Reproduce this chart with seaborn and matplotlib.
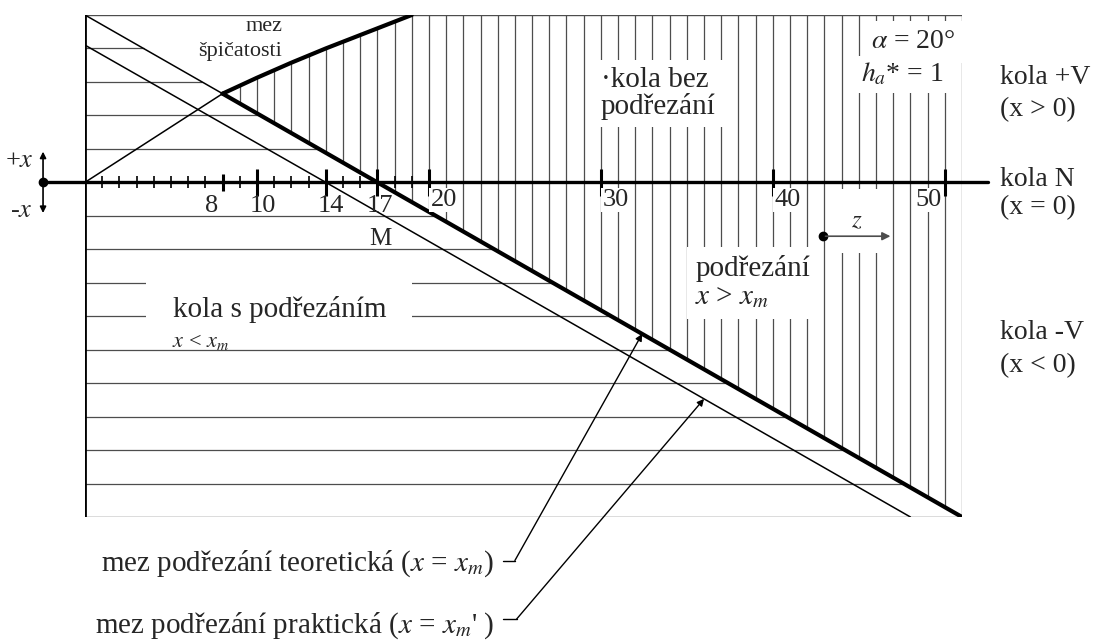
import numpy as np
import matplotlib
matplotlib.use('Agg')
import matplotlib.pyplot as plt
import seaborn as sns

sns.set_theme(style="white")
plt.rcParams['font.family'] = ['Liberation Serif', 'DejaVu Serif']
plt.rcParams['mathtext.fontset'] = 'stix'

# mez podřezání teoretická (x = x_m)
z_teor = [0, 8, 17, 51]
x_teor = [1.0, 0.53, 0.0, -2.0]
# mez podřezání praktická (x = x_m')
z_prakt = [0, 14, 48]
x_prakt = [0.82, 0.0, -2.0]
# mez špičatosti
z_spic = [0, 8, 10, 12, 14, 17, 19]
x_spic = [0.0, 0.53, 0.625, 0.715, 0.80, 0.92, 1.0]

# popisky osy z
z_popisky = ['8', '10', '14', '17', '20', '30', '40', '50']
z_hlavni = [10, 14, 17, 20, 30, 40, 50]
z_vedlejsi = list(range(1, 20))

# šrafování (úrovně po 0.2 v x, svislice po jednom zubu)
x_rastr = [0.8, 0.6, 0.4, 0.2, -0.2, -0.4, -0.6, -0.8, -1.0, -1.2, -1.4, -1.6, -1.8]
z_rastr = list(range(9, 52))

fig = plt.figure(figsize=(10.96, 6.43), dpi=100)
ax = fig.add_axes([85 / 1096, 126 / 643, 877 / 1096, 502 / 643])
ax.set_xlim(0, 51)
ax.set_ylim(-2, 1)
ax.set_axis_off()

seda = '0.3'

# svislé šrafy: kola bez podřezání
lo = np.interp(z_rastr, z_teor, x_teor)
hi = np.minimum(np.interp(z_rastr, z_spic, x_spic, right=1.0), 1.0)
ax.vlines(z_rastr, lo, hi, colors=seda, lw=0.9, zorder=1)

# vodorovné šrafy: kola s podřezáním
z_konec = np.interp(x_rastr, x_teor[::-1], z_teor[::-1])
ax.hlines(x_rastr, 0, z_konec, colors=seda, lw=0.9, zorder=1)

# rámeček
ax.hlines([1.0, -2.0], 0, 51, colors=seda, lw=1.0, zorder=1)
ax.vlines(0, -2, 1, colors='black', lw=2.0, zorder=3)
ax.hlines(x_rastr, -0.35, 0, colors='black', lw=1.2, zorder=3)

# osa z (x = 0)
ax.plot([-2.44, 52.5], [0, 0], color='black', lw=2.4, clip_on=False, zorder=3)
ax.vlines(z_vedlejsi, -0.035, 0.035, colors='black', lw=1.2, zorder=3)
ax.vlines(z_hlavni, -0.08, 0.08, colors='black', lw=2.2, zorder=3)
ax.vlines(8, -0.05, 0.05, colors='black', lw=2.2, zorder=3)

# hranice
sns.lineplot(x=z_teor[:2], y=x_teor[:2], ax=ax, color='black', lw=1.1, sort=False, estimator=None, zorder=4)
sns.lineplot(x=z_teor[1:], y=x_teor[1:], ax=ax, color='black', lw=3.0, sort=False, estimator=None, zorder=4)
sns.lineplot(x=z_prakt, y=x_prakt, ax=ax, color='black', lw=1.1, sort=False, estimator=None, zorder=4)
sns.lineplot(x=z_spic[:2], y=x_spic[:2], ax=ax, color='black', lw=1.1, sort=False, estimator=None, zorder=4)
sns.lineplot(x=z_spic[1:], y=x_spic[1:], ax=ax, color='black', lw=3.0, sort=False, estimator=None, zorder=4)

bila = dict(facecolor='white', edgecolor='none', pad=1)

# popisky osy z
pozice = {'8': (7.75, 'right'), '10': (10.35, 'center'), '14': (14.3, 'center'),
          '17': (17.15, 'center'), '20': (20.1, 'left'), '30': (30.1, 'left'),
          '40': (40.1, 'left'), '50': (49.8, 'right')}
for lab in z_popisky:
    zz, ha = pozice[lab]
    if int(lab) < 20:
        ax.text(zz, -0.14, lab, ha=ha, va='center', fontsize=19, zorder=5)
    else:
        ax.text(zz, -0.105, lab, ha=ha, va='center', fontsize=19, bbox=bila, zorder=5)
ax.text(17.15, -0.34, 'M', ha='center', va='center', fontsize=18, zorder=5)

# +x / -x
ax.plot(-2.44, 0, 'o', color='black', ms=6, clip_on=False, zorder=5)
ax.annotate('', xy=(-2.44, 0.2), xytext=(-2.44, 0), annotation_clip=False,
            arrowprops=dict(arrowstyle='-|>', color='black', lw=1.2, mutation_scale=9))
ax.annotate('', xy=(-2.44, -0.2), xytext=(-2.44, 0), annotation_clip=False,
            arrowprops=dict(arrowstyle='-|>', color='black', lw=1.2, mutation_scale=9))
ax.text(-3.8, 0.13, r'+$x$', ha='center', va='center', fontsize=19)
ax.text(-3.7, -0.17, r'-$x$', ha='center', va='center', fontsize=19)

# texty v grafu
ax.text(10.4, 0.93, 'mez', ha='center', va='center', fontsize=16, zorder=5)
ax.text(9.0, 0.78, 'špičatosti', ha='center', va='center', fontsize=16, zorder=5)
ax.text(30.0, 0.53, '·kola bez\npodřezání', ha='left', va='center', fontsize=21,
        linespacing=1.0, bbox=dict(facecolor='white', edgecolor='none', pad=5), zorder=5)
ax.text(50.6, 0.84, r'$\alpha$ = 20°', ha='right', va='center', fontsize=20,
        bbox=dict(facecolor='white', edgecolor='none', pad=6), zorder=5)
ax.text(49.9, 0.645, r'$h_a$* = 1', ha='right', va='center', fontsize=20,
        bbox=dict(facecolor='white', edgecolor='none', pad=4), zorder=5)
ax.text(5.1, -0.76, 'kola s podřezáním', ha='left', va='center', fontsize=21,
        bbox=dict(facecolor='white', edgecolor='none', pad=19), zorder=5)
ax.text(5.06, -0.955, r'$x$ < $x_m$', ha='left', va='center', fontsize=16, zorder=6)
ax.text(35.5, -0.6, 'podřezání\n' + r'$x$ > $x_m$', ha='left', va='center', fontsize=21,
        linespacing=1.1, bbox=dict(facecolor='white', edgecolor='none', pad=6), zorder=5)

# směr z
ax.text(44.9, -0.23, r'$z$', ha='center', va='center', fontsize=18,
        bbox=dict(facecolor='white', edgecolor='none', pad=15), zorder=5)
ax.plot(42.9, -0.322, 'o', color='black', ms=6, zorder=6)
ax.annotate('', xy=(47.0, -0.322), xytext=(42.9, -0.322), zorder=6,
            arrowprops=dict(arrowstyle='-|>', color='0.3', lw=1.2, mutation_scale=12))

# popisky vpravo
for yy, t in [(0.627, 'kola +V'), (0.436, '(x > 0)'), (0.018, 'kola N'),
              (-0.149, '(x = 0)'), (-0.896, 'kola -V'), (-1.093, '(x < 0)')]:
    ax.text(53.2, yy, t, ha='left', va='center', fontsize=20)

# popisky dole s odkazovými čarami
tip_t = (32.4, float(np.interp(32.4, z_teor, x_teor)))
tip_p = (36.0, float(np.interp(36.0, z_prakt, x_prakt)))
ax.text(23.8, -2.28, r'mez podřezání teoretická ($x$ = $x_m$)', ha='right', va='center', fontsize=21)
ax.text(23.8, -2.65, r"mez podřezání praktická ($x$ = $x_m$' )", ha='right', va='center', fontsize=21)
ax.plot([24.3, 25.0], [-2.26, -2.26], color='black', lw=1.0, clip_on=False)
ax.plot([24.3, 25.1], [-2.61, -2.61], color='black', lw=1.0, clip_on=False)
ax.annotate('', xy=tip_t, xytext=(25.0, -2.26), annotation_clip=False, zorder=6,
            arrowprops=dict(arrowstyle='-|>', color='black', lw=1.0, mutation_scale=10, shrinkA=0, shrinkB=0))
ax.annotate('', xy=tip_p, xytext=(25.1, -2.61), annotation_clip=False, zorder=6,
            arrowprops=dict(arrowstyle='-|>', color='black', lw=1.0, mutation_scale=10, shrinkA=0, shrinkB=0))

fig.savefig('out.png', dpi=100)
